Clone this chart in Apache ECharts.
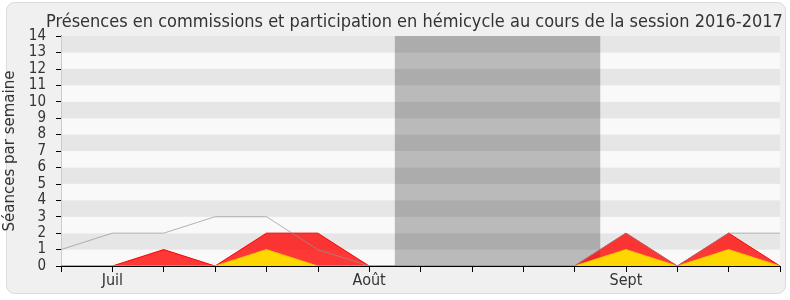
<!DOCTYPE html>
<html><head><meta charset="utf-8">
<script src="https://cdn.jsdelivr.net/npm/echarts@6/dist/echarts.min.js"></script>
<style>html,body{margin:0;padding:0;background:#fff}#c{width:790px;height:300px}</style>
</head><body><div id="c"></div>
<script>
var weekLabels = ['', 'Juil', '', '', '', '', 'Août', '', '', '', '', 'Sept', '', '', ''];
var hemicycle = [1, 2, 2, 3, 3, 1, 0, 0, 0, 0, 0, 2, 0, 2, 2];
var commissionsTotal = [0, 0, 1, 0, 2, 2, 0, 0, 0, 0, 0, 2, 0, 2, 0];
var commissionsPresent = [0, 0, 0, 0, 1, 0, 0, 0, 0, 0, 0, 1, 0, 1, 0];
var vacation = [6.5, 10.5];
var yTicks = [0, 14, 1];

function pairs(arr) { return arr.map(function (v, i) { return [i, v]; }); }

var chart = echarts.init(document.getElementById('c'), null, {renderer: 'canvas'});
var font = 'DejaVu Sans Condensed';
chart.setOption({
  animation: false,
  backgroundColor: '#ffffff',
  graphic: [{
    type: 'rect', z: -10, silent: true,
    shape: {x: 6.5, y: 2.5, width: 779, height: 291, r: 8},
    style: {fill: '#f0f0f0', stroke: '#dcdcdc', lineWidth: 1}
  }],
  title: {
    text: 'Présences en commissions et participation en hémicycle au cours de la session 2016-2017',
    left: 41, top: 8,
    textStyle: {fontFamily: font, fontSize: 18, fontWeight: 'normal', color: '#333'}
  },
  grid: {left: 61, right: 10, top: 36, bottom: 34, containLabel: false, outerBoundsMode: 'none'},
  xAxis: [{
    type: 'value', min: 0, max: 14, interval: 1, z: 10,
    axisLine: {show: true, onZero: false, lineStyle: {color: '#000', width: 1}},
    axisTick: {show: true, length: 6, lineStyle: {color: '#000'}},
    axisLabel: {
      show: true, margin: 7, fontFamily: font, fontSize: 16, color: '#333',
      formatter: function (v) { return weekLabels[v] || ''; }
    },
    splitLine: {show: false}
  }, {
    type: 'value', min: 0, max: 14, interval: 1, position: 'top',
    axisLine: {show: false},
    axisTick: {show: true, inside: true, length: 2, lineStyle: {color: '#333'}},
    axisLabel: {show: false}, splitLine: {show: false}
  }],
  yAxis: [{
    type: 'value', min: yTicks[0], max: yTicks[1], interval: yTicks[2],
    name: 'Séances par semaine', nameLocation: 'middle', nameGap: 41,
    nameTextStyle: {fontFamily: 'DejaVu Sans', fontSize: 15, color: '#333'},
    axisLine: {show: true, lineStyle: {color: '#000'}},
    axisTick: {show: true, length: 5, lineStyle: {color: '#000'}},
    axisLabel: {fontFamily: font, fontSize: 15, color: '#333', margin: 15},
    splitLine: {show: false},
    splitArea: {show: true, areaStyle: {color: ['#f9f9f9', '#e6e6e6']}}
  }, {
    type: 'value', min: yTicks[0], max: yTicks[1], interval: yTicks[2], position: 'right',
    axisLine: {show: true, lineStyle: {color: '#cccccc'}},
    axisTick: {show: false}, axisLabel: {show: false}, splitLine: {show: false}
  }],
  series: [{
    type: 'line', data: [], z: 1,
    markArea: {
      silent: true,
      itemStyle: {color: 'rgba(0,0,0,0.25)'},
      data: [[{xAxis: vacation[0]}, {xAxis: vacation[1]}]]
    }
  }, {
    name: 'Commissions', type: 'line', data: pairs(commissionsTotal), z: 3,
    symbol: 'none',
    lineStyle: {color: '#ff0000', width: 1},
    areaStyle: {color: 'rgba(255,0,0,0.78)', opacity: 1}
  }, {
    name: 'Présences', type: 'line', data: pairs(commissionsPresent), z: 4,
    symbol: 'none',
    lineStyle: {color: '#f5c400', width: 1},
    areaStyle: {color: '#ffd700', opacity: 1}
  }, {
    name: 'Hémicycle', type: 'line', data: pairs(hemicycle), z: 5,
    symbol: 'none',
    lineStyle: {color: 'rgba(150,150,150,0.7)', width: 1}
  }]
});
</script></body></html>
